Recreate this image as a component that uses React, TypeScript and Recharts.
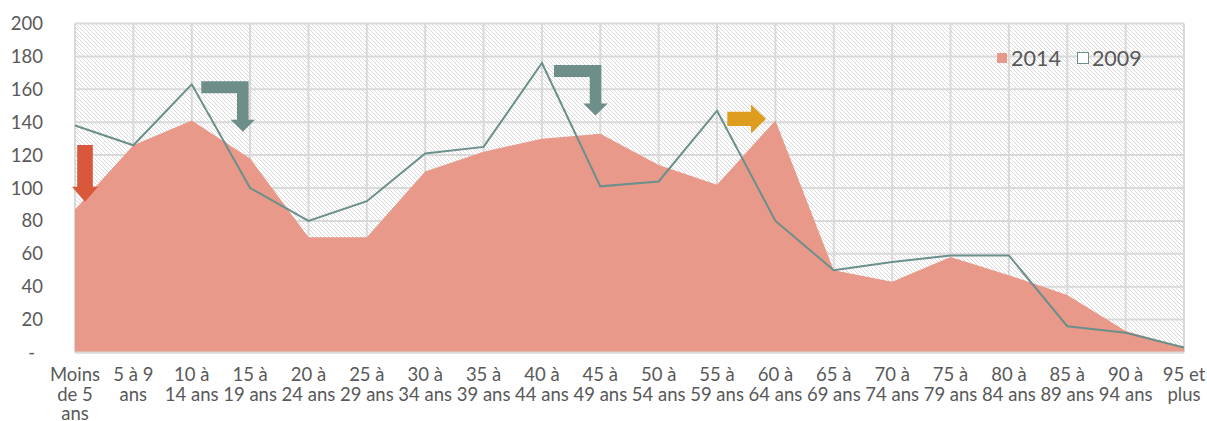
import React from 'react';
import {
  ComposedChart,
  Area,
  Line,
  XAxis,
  YAxis,
  CartesianGrid,
  Legend,
  ReferenceDot,
} from 'recharts';

const categories = [
  'Moins de 5 ans', '5 à 9 ans', '10 à 14 ans', '15 à 19 ans', '20 à 24 ans',
  '25 à 29 ans', '30 à 34 ans', '35 à 39 ans', '40 à 44 ans', '45 à 49 ans',
  '50 à 54 ans', '55 à 59 ans', '60 à 64 ans', '65 à 69 ans', '70 à 74 ans',
  '75 à 79 ans', '80 à 84 ans', '85 à 89 ans', '90 à 94 ans', '95 et plus',
];

const tickLabelLines = [
  ['Moins', 'de 5', 'ans'], ['5 à 9', 'ans'], ['10 à', '14 ans'], ['15 à', '19 ans'],
  ['20 à', '24 ans'], ['25 à', '29 ans'], ['30 à', '34 ans'], ['35 à', '39 ans'],
  ['40 à', '44 ans'], ['45 à', '49 ans'], ['50 à', '54 ans'], ['55 à', '59 ans'],
  ['60 à', '64 ans'], ['65 à', '69 ans'], ['70 à', '74 ans'], ['75 à', '79 ans'],
  ['80 à', '84 ans'], ['85 à', '89 ans'], ['90 à', '94 ans'], ['95 et', 'plus'],
];

const values2014 = [87, 126, 141, 118, 70, 70, 110, 122, 130, 133, 114, 102, 141, 50, 43, 58, 47, 35, 13, 3];
const values2009 = [138, 126, 163, 100, 80, 92, 121, 125, 176, 101, 104, 147, 80, 50, 55, 59, 59, 16, 12, 3];

const yTicks = [0, 20, 40, 60, 80, 100, 120, 140, 160, 180, 200];

// annotation arrows: anchored to a category and value (tip of the arrow)
const annotations = [
  { category: 'Moins de 5 ans', value: 91.7, dx: 10, kind: 'down', color: '#D9573A' },
  { category: '15 à 19 ans', value: 134.2, dx: -7.3, kind: 'bent', color: '#6E8E8A' },
  { category: '45 à 49 ans', value: 144, dx: -4.8, kind: 'bent', color: '#6E8E8A' },
  { category: '60 à 64 ans', value: 142, dx: -9.4, kind: 'right', color: '#DF9D20' },
];

const data = categories.map((c, i) => ({ name: c, y2014: values2014[i], y2009: values2009[i] }));

const C_AREA = '#E8998A';
const C_LINE = '#6B8F8B';
const C_TEXT = '#595959';
const C_GRID = '#D9D9D9';
const FONT = 'Lato, "Open Sans", sans-serif';

const XTick = (props: any) => {
  const { x, y, payload } = props;
  const lines = tickLabelLines[payload.index] || [String(payload.value)];
  return (
    <text x={x} y={y} textAnchor="middle" fill={C_TEXT} fontFamily={FONT} fontSize={18.5}>
      {lines.map((l, i) => (
        <tspan key={i} x={x} dy={i === 0 ? 28.5 : 19.5}>{l}</tspan>
      ))}
    </text>
  );
};

const YTick = (props: any) => {
  const { x, y, payload } = props;
  const zero = payload.value === 0;
  return (
    <text x={zero ? x - 8 : x} y={y} dy="0.355em" textAnchor="end" fill={C_TEXT} fontFamily={FONT} fontSize={18.5}>
      {zero ? '-' : payload.value}
    </text>
  );
};

const arrowShape = (kind: string, color: string, dx: number) => (props: any) => {
  const cx = props.cx + dx;
  const cy = props.cy;
  let d = '';
  if (kind === 'down') {
    d = `M${cx - 7.8},${cy - 56.7} L${cx + 7.8},${cy - 56.7} L${cx + 7.8},${cy - 15} L${cx + 13},${cy - 15} L${cx},${cy} L${cx - 13},${cy - 15} L${cx - 7.8},${cy - 15} Z`;
  } else if (kind === 'bent') {
    d = `M${cx - 41.5},${cy - 50.5} L${cx + 5.8},${cy - 50.5} L${cx + 5.8},${cy - 12} L${cx + 12.2},${cy - 12} L${cx},${cy} L${cx - 12.2},${cy - 12} L${cx - 5.8},${cy - 12} L${cx - 5.8},${cy - 38.5} L${cx - 41.5},${cy - 38.5} Z`;
  } else {
    d = `M${cx - 38.7},${cy - 7.2} L${cx - 15},${cy - 7.2} L${cx - 15},${cy - 14.5} L${cx},${cy} L${cx - 15},${cy + 14.5} L${cx - 15},${cy + 7.2} L${cx - 38.7},${cy + 7.2} Z`;
  }
  return <path d={d} fill={color} stroke="none" />;
};

const LegendContent = () => (
  <div style={{ display: 'flex', alignItems: 'center', fontFamily: FONT, fontSize: 21.5, color: C_TEXT, lineHeight: '24px', whiteSpace: 'nowrap' }}>
    <span style={{ display: 'inline-block', width: 10, height: 10, background: C_AREA, marginRight: 4 }} />
    <span style={{ marginRight: 16 }}>2014</span>
    <span style={{ display: 'inline-block', width: 12, height: 12, boxSizing: 'border-box', border: `1.5px solid ${C_LINE}`, background: '#fff', marginRight: 3 }} />
    <span>2009</span>
  </div>
);

export default function App() {
  return (
    <div style={{ width: 1207, height: 421 }}>
      <style>{'body{margin:0;}'}</style>
      <ComposedChart width={1207} height={421} data={data} margin={{ top: 23.5, right: 23, bottom: 0, left: 15 }}>
        <defs>
          <pattern id="hatch" patternUnits="userSpaceOnUse" width="4" height="4">
            <rect width="4" height="4" fill="#ffffff" />
            <path d="M-1,-1 L5,5 M-1,3 L1,5 M3,-1 L5,1" stroke="#d6d6d6" strokeWidth="0.9" />
          </pattern>
        </defs>
        <CartesianGrid stroke={C_GRID} strokeWidth={2} fill="url(#hatch)" fillOpacity={1} />
        <XAxis
          dataKey="name"
          scale="point"
          padding={{ left: 0, right: 0 }}
          interval={0}
          height={68.5}
          tickSize={0}
          tickMargin={0}
          tickLine={false}
          axisLine={{ stroke: C_GRID, strokeWidth: 2 }}
          tick={<XTick />}
        />
        <YAxis
          domain={[0, 200]}
          ticks={yTicks}
          width={60}
          tickSize={0}
          tickMargin={32}
          tickLine={false}
          axisLine={false}
          tick={<YTick />}
        />
        <Legend
          layout="horizontal"
          verticalAlign="middle"
          align="center"
          content={<LegendContent />}
          wrapperStyle={{ position: 'absolute', top: 46, left: 997, width: 'auto', height: 'auto' }}
        />
        <Area
          type="linear"
          dataKey="y2014"
          name="2014"
          fill={C_AREA}
          fillOpacity={1}
          stroke="none"
          isAnimationActive={false}
          dot={false}
          activeDot={false}
        />
        <Line
          type="linear"
          dataKey="y2009"
          name="2009"
          stroke={C_LINE}
          strokeWidth={2}
          dot={false}
          activeDot={false}
          isAnimationActive={false}
        />
        {annotations.map((a, i) => (
          <ReferenceDot
            key={i}
            x={a.category}
            y={a.value}
            r={1}
            ifOverflow="visible"
            shape={arrowShape(a.kind, a.color, a.dx)}
          />
        ))}
      </ComposedChart>
    </div>
  );
}
